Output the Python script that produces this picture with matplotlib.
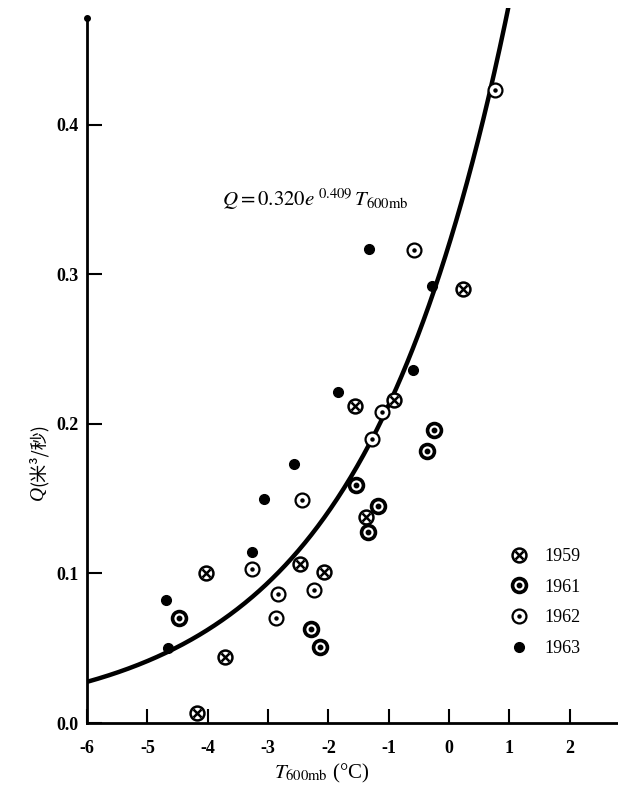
import matplotlib
matplotlib.use('Agg')
import matplotlib.pyplot as plt
import numpy as np
from matplotlib.legend_handler import HandlerTuple

plt.rcParams['font.family'] = ['Liberation Serif', 'Noto Sans CJK SC', 'DejaVu Sans']
plt.rcParams['mathtext.fontset'] = 'stix'

# ---- data ----
t1959 = [-4.17, -3.71, -4.02, -2.47, -2.08, -1.56, -1.38, -0.92, 0.23]
q1959 = [0.0065, 0.044, 0.100, 0.106, 0.101, 0.212, 0.138, 0.216, 0.290]

t1961 = [-4.47, -2.29, -2.14, -1.54, -1.18, -1.35, -0.25, -0.36]
q1961 = [0.070, 0.063, 0.051, 0.159, 0.145, 0.128, 0.196, 0.182]

t1962 = [-2.44, -3.27, -2.83, -2.23, -2.87, -0.58, -1.11, -1.28, 0.76]
q1962 = [0.149, 0.103, 0.086, 0.089, 0.070, 0.316, 0.208, 0.190, 0.423]

t1963 = [-2.57, -3.06, -3.27, -4.66, -4.69, -1.33, -0.29, -0.59, -1.84]
q1963 = [0.173, 0.150, 0.114, 0.050, 0.082, 0.317, 0.292, 0.236, 0.221]

# fitted curve  Q = 0.320 * exp(0.409 * T)
fit_a = 0.320
fit_b = 0.409

xticks = [-6, -5, -4, -3, -2, -1, 0, 1, 2]
xticklabels = ['-6', '-5', '-4', '-3', '-2', '-1', '0', '1', '2']
yticks = [0.0, 0.1, 0.2, 0.3, 0.4]
yticklabels = ['0.0', '0.1', '0.2', '0.3', '0.4']

fig = plt.figure(figsize=(6.18, 7.86), dpi=100)
ax = fig.add_axes([87/618, 1-723/786, 1-87/618, (723-8)/786])
ax.set_xlim(-6, 2.8)
ax.set_ylim(0, 0.478)

# curve
tc = np.linspace(-6, 1.2, 400)
ax.plot(tc, fit_a*np.exp(fit_b*tc), color='black', lw=3.2, zorder=2)

ms = 10
# 1959: circle with cross
h59a, = ax.plot(t1959, q1959, 'o', ms=ms, mfc='white', mec='black', mew=1.8, ls='none', zorder=3)
h59b, = ax.plot(t1959, q1959, 'x', ms=ms*0.55, mec='black', mew=1.8, ls='none', zorder=4)
# 1961: thick ring with center dot
h61a, = ax.plot(t1961, q1961, 'o', ms=ms, mfc='white', mec='black', mew=2.6, ls='none', zorder=3)
h61b, = ax.plot(t1961, q1961, 'o', ms=3.2, mfc='black', mec='black', ls='none', zorder=4)
# 1962: thin ring with center dot
h62a, = ax.plot(t1962, q1962, 'o', ms=ms, mfc='white', mec='black', mew=1.6, ls='none', zorder=3)
h62b, = ax.plot(t1962, q1962, 'o', ms=2.2, mfc='black', mec='black', ls='none', zorder=4)
# 1963: solid dot
h63, = ax.plot(t1963, q1963, 'o', ms=7, mfc='black', mec='black', ls='none', zorder=3)

# spines
for s in ['top', 'right']:
    ax.spines[s].set_visible(False)
ax.spines['left'].set_linewidth(2.0)
ax.spines['bottom'].set_linewidth(2.0)
ax.spines['left'].set_bounds(0, 0.4716)
ax.plot([-6], [0.4716], 'o', color='black', ms=4, clip_on=False, zorder=5)

ax.set_xticks(xticks)
ax.set_xticklabels(xticklabels)
ax.set_yticks(yticks)
ax.set_yticklabels(yticklabels)
ax.tick_params(axis='x', direction='in', length=10, width=1.5, pad=12, labelsize=13)
ax.tick_params(axis='y', direction='in', length=11, width=1.5, pad=6, labelsize=13)
for lab in ax.get_xticklabels() + ax.get_yticklabels():
    lab.set_fontweight('bold')

# equation
ax.text(-3.77, 0.350, r"$Q = 0.320e^{\ 0.409}\,T_{\mathrm{600mb}}$", fontsize=15,
        ha='left', va='center')

# axis labels
ylab_y = 1 - 486/786
fig.text(38/618, ylab_y, "Q", rotation=90, ha='center', va='top',
         fontsize=14, style='italic', family='Liberation Serif')
fig.text(38/618, ylab_y, "(米³/秒)", rotation=90, ha='center', va='bottom',
         fontsize=13, family=['Noto Sans CJK SC', 'DejaVu Sans'])
fig.text(322/618, 1-773/786, r"$T_{\mathrm{600mb}}$ (°C)", ha='center', va='center',
         fontsize=15)

# legend
handles = [(h59a, h59b), (h61a, h61b), (h62a, h62b), h63]
labels = ['1959', '1961', '1962', '1963']
leg = ax.legend(handles, labels, handler_map={tuple: HandlerTuple(ndivide=1)},
                loc='upper left', bbox_to_anchor=(494/618, 1-532/786),
                bbox_transform=fig.transFigure, frameon=False, handlelength=1.0,
                handletextpad=0.9, labelspacing=0.75, fontsize=13)

fig.savefig('out.png', dpi=100, facecolor='white')
